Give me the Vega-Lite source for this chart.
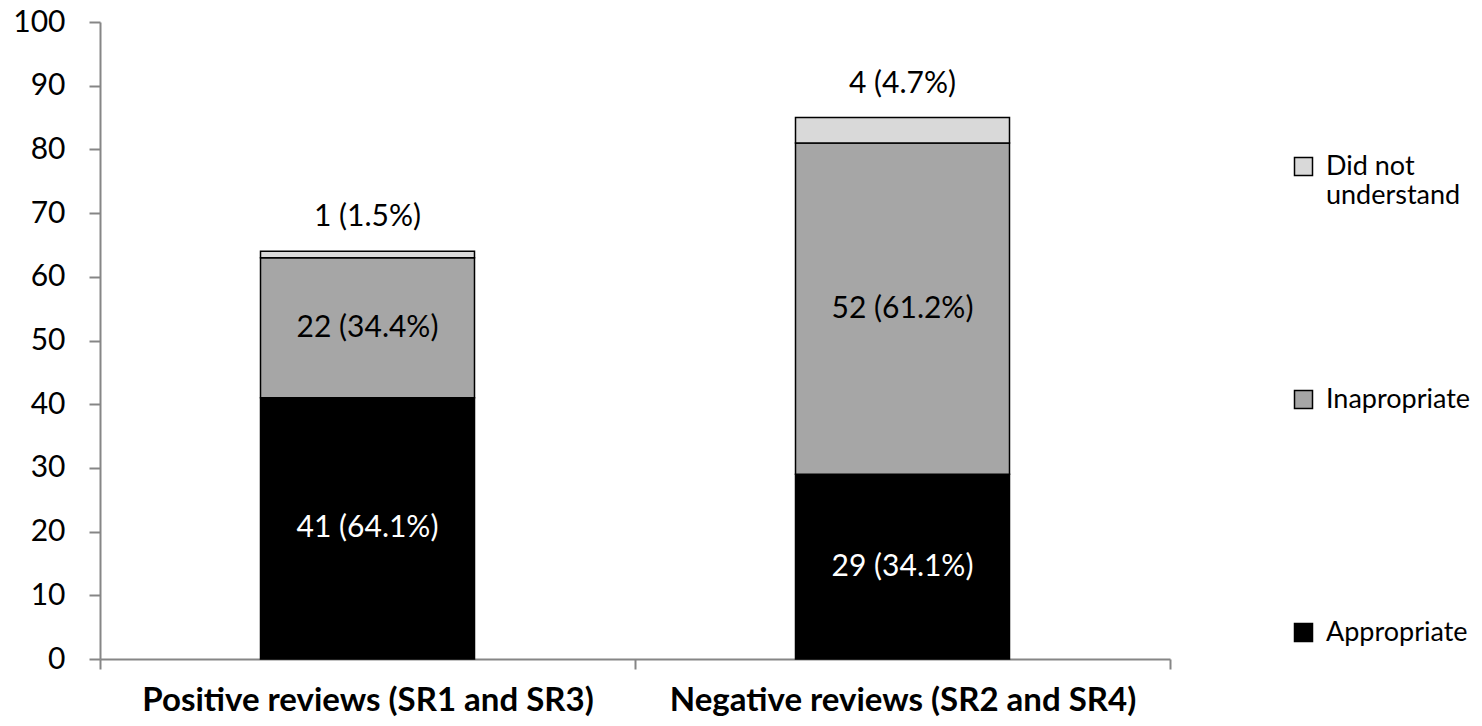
{
  "$schema": "https://vega.github.io/schema/vega-lite/v6.json",
  "width": 1070,
  "height": 637,
  "autosize": {"type": "none"},
  "padding": {"left": 100, "top": 22, "right": 312, "bottom": 67},
  "config": {"font": "Lato", "view": {"stroke": null}},
  "data": {
    "values": [
      {"group": "Positive reviews (SR1 and SR3)", "response": "Appropriate", "count": 41, "label": "41 (64.1%)", "rank": 1},
      {"group": "Positive reviews (SR1 and SR3)", "response": "Inapropriate", "count": 22, "label": "22 (34.4%)", "rank": 2},
      {"group": "Positive reviews (SR1 and SR3)", "response": "Did not understand", "count": 1, "label": "1 (1.5%)", "rank": 3},
      {"group": "Negative reviews (SR2 and SR4)", "response": "Appropriate", "count": 29, "label": "29 (34.1%)", "rank": 1},
      {"group": "Negative reviews (SR2 and SR4)", "response": "Inapropriate", "count": 52, "label": "52  (61.2%)", "rank": 2},
      {"group": "Negative reviews (SR2 and SR4)", "response": "Did not understand", "count": 4, "label": "4 (4.7%)", "rank": 3}
    ]
  },
  "encoding": {
    "x": {
      "field": "group",
      "type": "nominal",
      "sort": ["Positive reviews (SR1 and SR3)", "Negative reviews (SR2 and SR4)"],
      "scale": {"paddingInner": 0, "paddingOuter": 0},
      "axis": {
        "title": null,
        "labelAngle": 0,
        "labelFont": "Lato",
        "labelFontSize": 33,
        "labelFontWeight": "bold",
        "labelColor": "#000000",
        "labelPadding": 15,
        "labelLimit": 600,
        "tickBand": "extent",
        "tickSize": 10,
        "tickColor": "#868686",
        "tickWidth": 2,
        "domainColor": "#868686",
        "domainWidth": 2
      }
    }
  },
  "layer": [
    {
      "mark": {"type": "bar", "width": {"band": 0.4}, "stroke": "#000000", "strokeWidth": 1.5},
      "encoding": {
        "y": {
          "field": "count",
          "type": "quantitative",
          "stack": "zero",
          "scale": {"domain": [0, 100], "nice": false},
          "axis": {
            "title": null,
            "values": [0, 10, 20, 30, 40, 50, 60, 70, 80, 90, 100],
            "grid": false,
            "labelFont": "Lato",
            "labelFontSize": 30,
            "labelColor": "#000000",
            "labelPadding": 24,
            "tickSize": 11,
            "tickColor": "#868686",
            "tickWidth": 2,
            "domainColor": "#868686",
            "domainWidth": 2
          }
        },
        "order": {"field": "rank", "type": "quantitative"},
        "color": {
          "field": "response",
          "type": "nominal",
          "scale": {
            "domain": ["Did not understand", "Inapropriate", "Appropriate"],
            "range": ["#d9d9d9", "#a6a6a6", "#000000"]
          },
          "legend": {
            "title": null,
            "orient": "none",
            "legendX": 1190,
            "legendY": 131,
            "symbolType": "square",
            "symbolSize": 324,
            "symbolStrokeColor": "#000000",
            "symbolStrokeWidth": 1.5,
            "labelFont": "Lato",
            "labelFontSize": 27,
            "labelColor": "#000000",
            "labelOffset": 9,
            "labelLimit": 300,
            "gridAlign": "all",
            "rowPadding": 176,
            "labelExpr": "datum.label == 'Did not understand' ? ['Did not', 'understand'] : datum.label"
          }
        }
      }
    },
    {
      "mark": {"type": "text", "font": "Lato", "fontSize": 30, "baseline": "middle"},
      "encoding": {
        "y": {"field": "count", "type": "quantitative", "stack": "zero", "bandPosition": 0.5},
        "order": {"field": "rank", "type": "quantitative"},
        "text": {
          "condition": {"test": "datum.response != 'Did not understand'", "field": "label"},
          "value": ""
        },
        "color": {
          "condition": {"test": "datum.response == 'Appropriate'", "value": "#ffffff"},
          "value": "#000000"
        }
      }
    },
    {
      "mark": {"type": "text", "font": "Lato", "fontSize": 30, "baseline": "middle", "dy": -34, "color": "#000000"},
      "encoding": {
        "y": {"field": "count", "type": "quantitative", "stack": "zero"},
        "order": {"field": "rank", "type": "quantitative"},
        "text": {
          "condition": {"test": "datum.response == 'Did not understand'", "field": "label"},
          "value": ""
        }
      }
    }
  ]
}
